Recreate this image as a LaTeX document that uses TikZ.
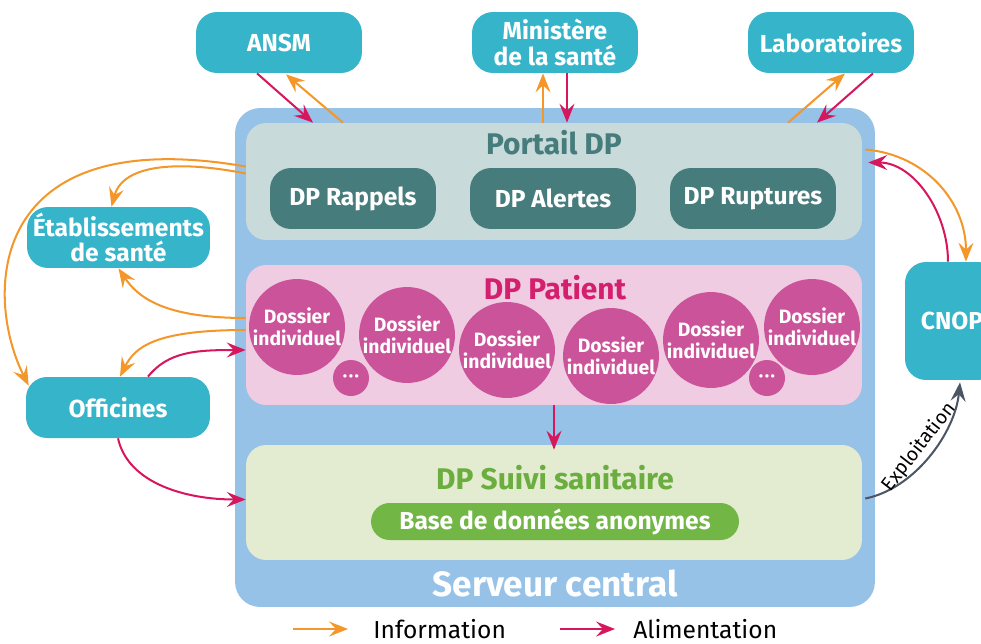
\documentclass[tikz,border=0pt]{standalone}
\usepackage{fontspec}
\setmainfont{Fira Sans}
\usetikzlibrary{calc}
\usetikzlibrary{arrows.meta}
\providecommand*{\pgfmathsetnewmacro}[2]{%
    \newcommand*{#1}{}% Error if already defined
    \pgfmathsetmacro{#1}{#2}%
}

\definecolor{serveurblue}{HTML}{97C2E8}
\definecolor{portailgrey}{HTML}{C8DAD9}
\definecolor{moduleteal}{HTML}{477C7C}
\definecolor{patientpink}{HTML}{EFCCE2}
\definecolor{dossierpink}{HTML}{CB5399}
\definecolor{patienttext}{HTML}{D41F6E}
\definecolor{suivigreen}{HTML}{E3ECD0}
\definecolor{suivitext}{HTML}{6BAE3F}
\definecolor{pillgreen}{HTML}{72B646}
\definecolor{actorteal}{HTML}{36B4C9}
\definecolor{infoorange}{HTML}{F3972B}
\definecolor{feedmagenta}{HTML}{D6175E}
\definecolor{exploitgrey}{HTML}{4B5565}

\tikzset{
    actor/.style = {fill = actorteal, text = white, rounded corners = 0.42cm,
                    minimum width = 3.32cm, minimum height = 1.22cm, inner sep = 0pt,
                    align = center, font = \fontsize{14}{14.5}\selectfont\bfseries},
    module/.style = {actor, fill = moduleteal},
    dossier/.style = {circle, fill = dossierpink, text = white, minimum size = 1.8cm,
                      inner sep = 0pt, align = center,
                      font = \fontsize{11}{12.5}\selectfont\bfseries},
    dots/.style = {dossier, minimum size = 0.72cm, font = \fontsize{8.5}{8.5}\selectfont},
    layer/.style = {rounded corners = 0.4cm, minimum width = 12.32cm, inner sep = 0pt},
    title/.style = {font = \fontsize{17}{19}\selectfont\bfseries, inner sep = 0pt},
    arrowline/.style = {line width = 1.15pt, -{Stealth[length = 3.8mm, width = 3mm, inset = 1.4mm]}},
    info/.style = {arrowline, draw = infoorange},
    feed/.style = {arrowline, draw = feedmagenta},
    exploit/.style = {arrowline, draw = exploitgrey},
    legend/.style = {font = \fontsize{14}{16}\selectfont, inner sep = 0pt, anchor = west}
}

\begin{document}
\begin{tikzpicture}[x = 0.02cm, y = -0.02cm]

\useasboundingbox[clip] (0,0) rectangle (981,643);

% serveur central and its three layers
\node[fill = serveurblue, rounded corners = 0.5cm, minimum width = 12.8cm,
      minimum height = 9.98cm, inner sep = 0pt] (serveur) at (555,357.5) {};
\node[layer, fill = portailgrey, minimum height = 2.34cm] (portail) at (554,181.5) {};
\node[layer, fill = patientpink, minimum height = 2.8cm] (patient) at (554,335) {};
\node[layer, fill = suivigreen, minimum height = 2.3cm] (suivi) at (554,502.5) {};

\node[title, text = moduleteal] (portailtitle) at (554,143) {Portail DP};
\node[title, text = patienttext] (patienttitle) at (555,288) {DP Patient};
\node[title, text = suivitext] (suivititle) at (555,478) {DP Suivi sanitaire};
\node[font = \fontsize{20}{22}\selectfont\bfseries, text = white, inner sep = 0pt]
    (serveurtitle) at (555,583) {Serveur central};

\foreach \NAME/\X/\LABEL in {
                        rappels/353/ DP Rappels,
                        alertes/553/ DP Alertes,
                        ruptures/753/ DP Ruptures}{
    \node[module] (\NAME) at (\X,198.5) {\LABEL};
    };

\foreach \X/\Y [count = \N] in {297/327, 407/335, 507/350, 611/356, 711/340, 812/327}{
    \node[dossier] (dossier\N) at (\X,\Y) {Dossier\\individuel};
    };
\foreach \X [count = \N] in {351, 767}{
    \node[dots] (dots\N) at (\X,378) {\raisebox{-2pt}{\textbullet\hspace{0.6pt}\textbullet\hspace{0.6pt}\textbullet}};
    };

\node[fill = pillgreen, text = white, rounded corners = 0.37cm,
      minimum width = 7.36cm, minimum height = 0.74cm, inner sep = 0pt,
      font = \fontsize{14}{16}\selectfont\bfseries] (base) at (555,521.5) {Base de données anonymes};

% partners
\foreach \NAME/\X/\LABEL in {
                        ansm/279/ ANSM,
                        labo/831/ Laboratoires}{
    \node[actor] (\NAME) at (\X,42.5) {\LABEL};
    };
\node[actor] (ministere) at (555,42.5) {Ministère\\de la santé};
\node[actor, minimum width = 3.66cm] (etab) at (118.5,237.5) {Établissements\\de santé};
\node[actor, minimum width = 3.68cm] (offic) at (118,407.5) {Officines};
\node[actor, minimum width = 1.88cm, minimum height = 2.36cm] (cnop) at (952,321) {CNOP};

% flows at the top
\draw[feed] ($(ansm.south)+(-22,0)$) -- ($(portail.north)+(-241,0)$);
\draw[info] ($(portail.north)+(-211,0)$) -- ($(ansm.south)+(7,1)$);
\draw[info] ($(portail.north)+(-11,0)$) -- ($(ministere.south)+(-12,0)$);
\draw[feed] ($(ministere.south)+(12,0)$) -- ($(portail.north)+(13,0)$);
\draw[info] ($(portail.north)+(234,0)$) -- ($(labo.south)+(14,0)$);
\draw[feed] ($(labo.south)+(42,0)$) -- ($(portail.north)+(263,0)$);

% flows on the left
\draw[info] ($(portail.west)+(0,-8)$) .. controls +(-60,-12) and +(12,-45) .. ($(etab.north)+(-7,0)$);
\draw[info] ($(portail.west)+(0,-15)$) .. controls +(-260,-45) and +(-45,-90) .. ($(offic.north west)+(3,9)$);
\draw[info] ($(patient.west)+(0,-17)$) .. controls +(-80,0) and +(20,30) .. (etab.south);
\draw[info] ($(patient.west)+(0,-5)$) .. controls +(-90,0) and +(15,-30) .. ($(offic.north)+(2,0)$);
\draw[feed] ($(offic.north)+(30,0)$) .. controls +(20,-25) and +(-50,0) .. ($(patient.west)+(0,15)$);
\draw[feed] (offic.south) .. controls +(10,45) and +(-60,0) .. ($(suivi.west)+(0,-3)$);
\draw[feed] (patient.south) -- ($(suivi.north)+(0,5)$);

% flows on the right
\draw[info] ($(portail.east)+(3,-32)$) .. controls +(60,5) and +(0,-60) .. ($(cnop.north)+(14,0)$);
\draw[feed] ($(cnop.north)+(-4,0)$) .. controls +(0,-50) and +(45,0) .. ($(portail.east)+(6,-19)$);
\draw[exploit] ($(suivi.east)+(3,-4)$) .. controls +(50,-10) and +(-5,50) .. ($(cnop.south)+(8,2)$)
    node[midway, sloped, above, text = black, font = \fontsize{11}{12}\selectfont, inner sep = 1.5pt] (exploitlabel) {Exploitation};

% legend
\node[legend] (information) at (373,629) {Information};
\node[legend] (alimentation) at (633,629) {Alimentation};
\draw[info] ($(information.west)+(-80,0)$) -- ($(information.west)+(-25,0)$);
\draw[feed] ($(alimentation.west)+(-73,0)$) -- ($(alimentation.west)+(-18,0)$);

\end{tikzpicture}
\end{document}
